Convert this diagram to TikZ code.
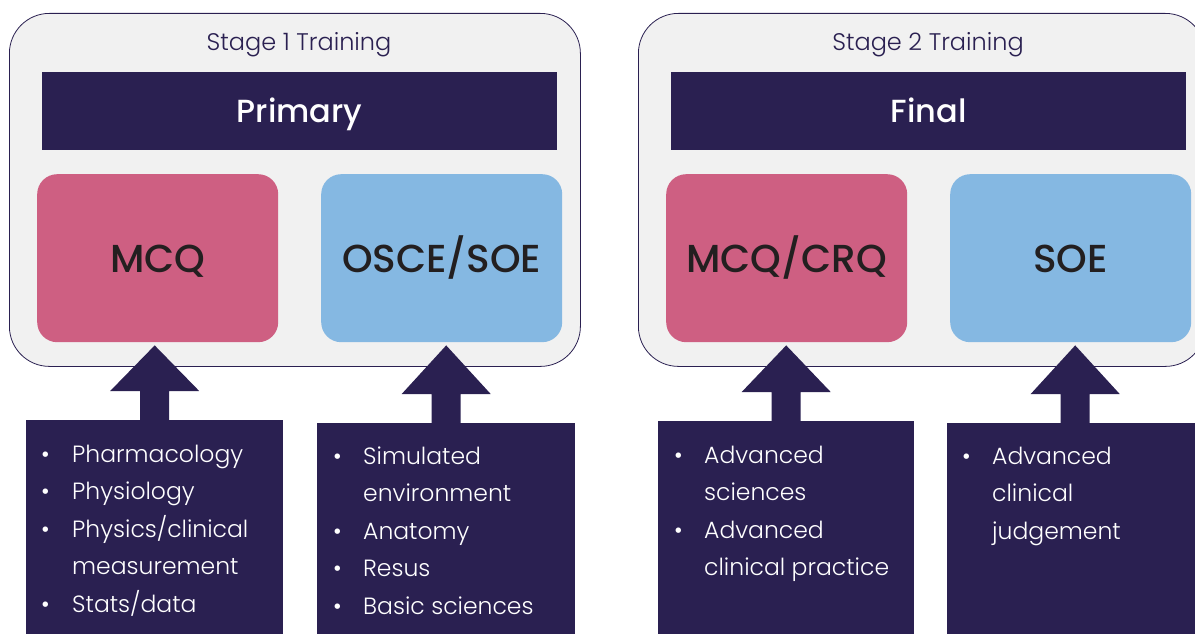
\documentclass[tikz,border=0pt]{standalone}
\usepackage{fontspec}
\setmainfont{Poppins}
\newfontfamily\lightfont{Poppins Light}
\newfontfamily\mediumfont{Poppins Medium}
\usetikzlibrary{calc}

\definecolor{navy}{HTML}{2A2051}
\definecolor{stagegray}{HTML}{F1F1F1}
\definecolor{mcqpink}{HTML}{CE5F82}
\definecolor{soeblue}{HTML}{85B8E2}
\definecolor{inkdark}{HTML}{231F20}

\begin{document}
\begin{tikzpicture}[x=1pt,y=-1pt,
  stage node/.style={rectangle,rounded corners=40pt,draw=navy,line width=0.8pt,fill=stagegray,
    minimum height=353pt,anchor=north west,inner sep=0pt},
  band node/.style={rectangle,fill=navy,text=white,minimum height=78pt,anchor=north west,
    inner sep=0pt,text depth=3pt,font=\mediumfont\fontsize{32}{40}\selectfont},
  exam node/.style={rectangle,rounded corners=20pt,minimum width=241pt,minimum height=168pt,
    anchor=north west,inner sep=0pt,text height=30pt,text depth=2pt,text=inkdark,
    font=\mediumfont\fontsize{39}{46}\selectfont},
  list node/.style={rectangle,fill=navy,minimum height=230pt,anchor=north west,inner sep=0pt},
  item text/.style={anchor=north west,inner sep=0pt,text=white,align=left,
    font=\lightfont\fontsize{23.5}{37.5}\selectfont},
  title text/.style={text=navy,font=\lightfont\fontsize{24}{30}\selectfont}]

  \useasboundingbox (0,0) rectangle (1195,634);
  \clip (0,0) rectangle (1195,634);

  % stage containers
  \node[stage node,minimum width=571pt] (stageA) at (9,13) {};
  \node[stage node,minimum width=567pt] (stageB) at (638,13) {};
  \node[title text] (titleA) at (299,45) {Stage 1 Training};
  \node[title text] (titleB) at (928,45) {Stage 2 Training};

  \node[band node,minimum width=515pt] (primary) at (42,72) {Primary};
  \node[band node,minimum width=515pt] (final) at (671,72) {Final};

  \node[exam node,fill=mcqpink] (mcqA) at (37,174) {MCQ};
  \node[exam node,fill=soeblue] (osceA) at (321,174) {OSCE/SOE};
  \node[exam node,fill=mcqpink] (mcqB) at (666,174) {MCQ/CRQ};
  \node[exam node,fill=soeblue] (soeB) at (950,174) {SOE};

  % topic boxes
  \node[list node,minimum width=257pt] (listA) at (26,420) {};
  \node[list node,minimum width=258pt] (listB) at (317,423) {};
  \node[list node,minimum width=256pt] (listC) at (658,421) {};
  \node[list node,minimum width=256pt] (listD) at (947,423) {};

  \foreach \l/\e in {listA/mcqA,listB/osceA,listC/mcqB,listD/soeB}
    \fill[navy] ($(\l.north)+(-14.5,1)$) -- ($(\l.north)+(-14.5,-29)$) -- ++(-30,0)
      -- ($(\l.north |- \e.south)+(0,3)$) -- ($(\l.north)+(44.5,-29)$) -- ++(-30,0)
      -- ($(\l.north)+(14.5,1)$) -- cycle;

  \node[item text] (itemsA) at ($(listA.north west)+(15,16)$) {%
    \begin{tabular}{@{}p{31pt}@{}l@{}}
    \textbullet & Pharmacology\\
    \textbullet & Physiology\\
    \textbullet & Physics/clinical\\
                & measurement\\
    \textbullet & Stats/data
    \end{tabular}};
  \node[item text] (itemsB) at ($(listB.north west)+(16,15)$) {%
    \begin{tabular}{@{}p{30pt}@{}l@{}}
    \textbullet & Simulated\\
                & environment\\
    \textbullet & Anatomy\\
    \textbullet & Resus\\
    \textbullet & Basic sciences
    \end{tabular}};
  \node[item text] (itemsC) at ($(listC.north west)+(16,16)$) {%
    \begin{tabular}{@{}p{30pt}@{}l@{}}
    \textbullet & Advanced\\
                & sciences\\
    \textbullet & Advanced\\
                & clinical practice
    \end{tabular}};
  \node[item text] (itemsD) at ($(listD.north west)+(15,15)$) {%
    \begin{tabular}{@{}p{30pt}@{}l@{}}
    \textbullet & Advanced\\
                & clinical\\
                & judgement
    \end{tabular}};

\end{tikzpicture}
\end{document}
